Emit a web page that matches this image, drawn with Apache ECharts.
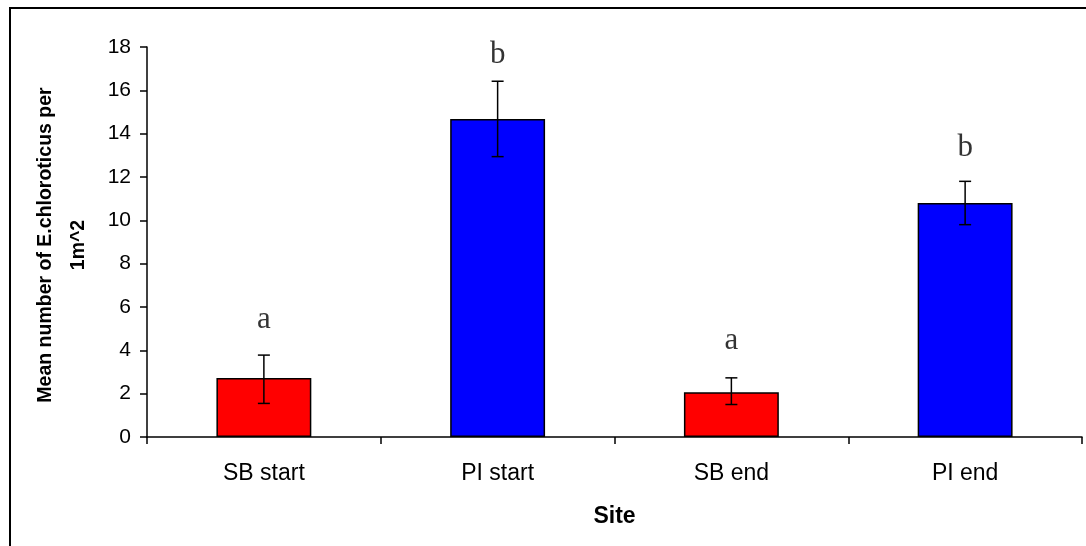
<!DOCTYPE html>
<html>
<head>
<meta charset="utf-8">
<script src="https://cdn.jsdelivr.net/npm/echarts@6/dist/echarts.min.js"></script>
<style>
html,body{margin:0;padding:0;background:#fff;}
#chart{width:1086px;height:546px;}
</style>
</head>
<body>
<div id="chart"></div>
<script>
const categories = ['SB start', 'PI start', 'SB end', 'PI end'];
const means = [2.72, 14.68, 2.07, 10.8];
const errLow = [1.55, 12.94, 1.5, 9.8];
const errHigh = [3.78, 16.42, 2.73, 11.8];
const barColors = ['#FF0000', '#0000FF', '#FF0000', '#0000FF'];
const letters = ['a', 'b', 'a', 'b'];
const letterY = [5.4, 17.65, 4.44, 13.35];
const yTicks = [0, 2, 4, 6, 8, 10, 12, 14, 16, 18];

const chart = echarts.init(document.getElementById('chart'), null, {renderer: 'canvas'});

const option = {
  animation: false,
  backgroundColor: '#ffffff',
  grid: {left: 147, right: 4, top: 47, bottom: 109, containLabel: false},
  graphic: [
    {type: 'rect', shape: {x: 10, y: 8, width: 1200, height: 700},
     style: {fill: 'none', stroke: '#000', lineWidth: 2}, silent: true},
    {type: 'text', x: 62, y: 245, rotation: Math.PI / 2,
     style: {text: 'Mean number of E.chloroticus per\n1m^2', align: 'center', verticalAlign: 'middle',
             font: 'bold 19.5px "Liberation Sans", Arial, sans-serif', fill: '#000', lineHeight: 33}}
  ],
  xAxis: {
    type: 'category',
    data: categories,
    name: 'Site',
    nameLocation: 'middle',
    nameGap: 68,
    nameTextStyle: {fontFamily: '"Liberation Sans", Arial, sans-serif', fontWeight: 'bold', fontSize: 23, color: '#000'},
    axisLine: {lineStyle: {color: '#000', width: 1.5}},
    axisTick: {show: true, length: 7, lineStyle: {color: '#000', width: 1.5}},
    axisLabel: {fontFamily: '"Liberation Sans", Arial, sans-serif', fontSize: 23, color: '#000', margin: 25},
    splitLine: {show: false}
  },
  yAxis: {
    type: 'value',
    min: yTicks[0],
    max: yTicks[yTicks.length - 1],
    interval: 2,
    axisLine: {show: true, lineStyle: {color: '#000', width: 1.5}},
    axisTick: {show: true, length: 7, lineStyle: {color: '#000', width: 1.5}},
    axisLabel: {fontFamily: '"Liberation Sans", Arial, sans-serif', fontSize: 21, color: '#000', margin: 16},
    splitLine: {show: false}
  },
  series: [
    {
      type: 'bar',
      data: means.map((v, i) => ({value: v, itemStyle: {color: barColors[i]}})),
      barWidth: '40.6%',
      itemStyle: {borderColor: '#000', borderWidth: 1.5},
      z: 2
    },
    {
      type: 'custom',
      data: means.map((v, i) => [i, errLow[i], errHigh[i]]),
      renderItem: function (params, api) {
        const lo = api.coord([api.value(0), api.value(1)]);
        const hi = api.coord([api.value(0), api.value(2)]);
        const hw = 6;
        const st = {stroke: '#000', lineWidth: 1.5};
        return {
          type: 'group',
          children: [
            {type: 'line', shape: {x1: lo[0], y1: lo[1], x2: hi[0], y2: hi[1]}, style: st},
            {type: 'line', shape: {x1: hi[0] - hw, y1: hi[1], x2: hi[0] + hw, y2: hi[1]}, style: st},
            {type: 'line', shape: {x1: lo[0] - hw, y1: lo[1], x2: lo[0] + hw, y2: lo[1]}, style: st}
          ]
        };
      },
      z: 3
    },
    {
      type: 'scatter',
      data: letterY.map((v, i) => [i, v]),
      symbolSize: 0,
      label: {
        show: true,
        position: 'inside',
        formatter: p => letters[p.dataIndex],
        fontFamily: '"Liberation Serif", "Times New Roman", serif',
        fontSize: 31,
        color: '#000'
      },
      z: 4
    }
  ]
};
chart.setOption(option);
</script>
</body>
</html>
